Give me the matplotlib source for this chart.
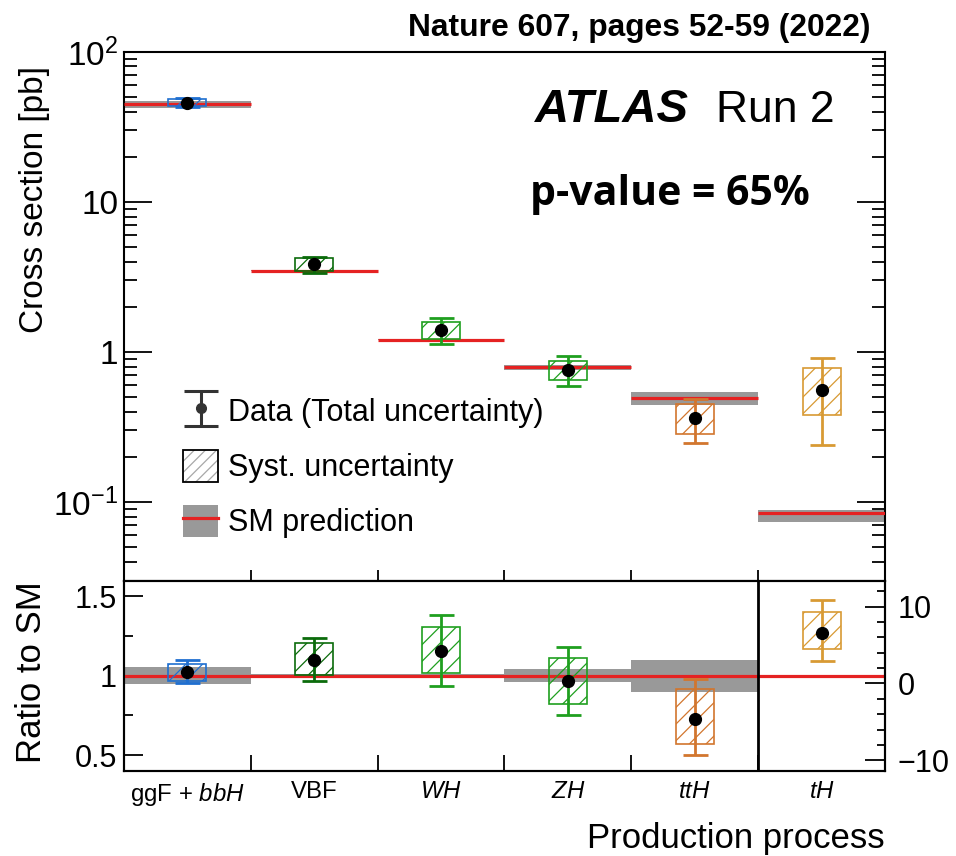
import numpy as np
import matplotlib
matplotlib.use('Agg')
import matplotlib.pyplot as plt
from matplotlib.patches import Patch
from matplotlib.lines import Line2D
from matplotlib.container import ErrorbarContainer
from matplotlib.legend_handler import HandlerErrorbar
from matplotlib.ticker import LogLocator, NullFormatter, FixedLocator, FixedFormatter, MultipleLocator

plt.rcParams['font.family'] = ['Liberation Sans', 'DejaVu Sans']
plt.rcParams['mathtext.fontset'] = 'custom'
plt.rcParams['mathtext.rm'] = 'Liberation Sans'
plt.rcParams['mathtext.it'] = 'Liberation Sans:italic'
plt.rcParams['mathtext.bf'] = 'Liberation Sans:bold'
plt.rcParams['hatch.linewidth'] = 0.9

# ====================== DATA ======================
processes = ['ggF + $bbH$', 'VBF', '$WH$', '$ZH$', '$ttH$', '$tH$']
colors = ['#1f6fd0', '#0b6b0b', '#1f9f1f', '#1f9f1f', '#d2762e', '#d89a34']

# top panel: cross sections [pb]
xs_val = [45.9, 3.85, 1.40, 0.762, 0.361, 0.556]
xs_syst_lo = [43.5, 3.49, 1.23, 0.650, 0.283, 0.378]
xs_syst_hi = [48.4, 4.21, 1.58, 0.878, 0.452, 0.778]
xs_tot_lo = [42.7, 3.38, 1.13, 0.596, 0.247, 0.241]
xs_tot_hi = [49.2, 4.33, 1.68, 0.934, 0.484, 0.916]
sm_val = [44.7, 3.49, 1.21, 0.79, 0.494, 0.085]
sm_lo = [42.4, 3.46, 1.20, 0.76, 0.445, 0.0732]
sm_hi = [47.0, 3.52, 1.22, 0.82, 0.543, 0.0889]

# bottom panel: ratio to SM (ggF .. ttH, left axis)
ratio_val = [1.023, 1.100, 1.157, 0.964, 0.730]
ratio_syst_lo = [0.970, 1.004, 1.015, 0.823, 0.573]
ratio_syst_hi = [1.076, 1.205, 1.309, 1.112, 0.916]
ratio_tot_lo = [0.954, 0.970, 0.937, 0.755, 0.499]
ratio_tot_hi = [1.097, 1.235, 1.385, 1.182, 0.980]
sm_ratio_lo = [0.945, 0.992, 0.992, 0.960, 0.900]
sm_ratio_hi = [1.055, 1.008, 1.008, 1.040, 1.100]

# tH ratio on the right-hand axis
th_ratio_val = [6.6]
th_ratio_syst_lo = [4.43]
th_ratio_syst_hi = [9.3]
th_ratio_tot_lo = [2.9]
th_ratio_tot_hi = [10.86]

RED = '#e52222'
GRAY = '#999999'

edges = np.arange(len(processes) + 1)
centers = edges[:-1] + 0.5


def draw_points(ax, x, val, s_lo, s_hi, t_lo, t_hi, cols):
    s_lo = np.asarray(s_lo)
    s_hi = np.asarray(s_hi)
    ax.bar(x, s_hi - s_lo, bottom=s_lo, width=0.3, fill=False, edgecolor=cols,
           hatch='//', linewidth=1.2, zorder=4)
    for xi, v, lo, hi, c in zip(x, val, t_lo, t_hi, cols):
        ax.errorbar(xi, v, yerr=[[v - lo], [hi - v]], fmt='none', ecolor=c,
                    elinewidth=2.0, capsize=9, capthick=2.0, zorder=5)
    ax.plot(x, val, 'o', color='black', ms=8.5, zorder=6)


fig = plt.figure(figsize=(9.56, 8.56), dpi=100)
ax1 = fig.add_axes([0.1297, 0.3218, 0.7960, 0.6175])
ax2 = fig.add_axes([0.1297, 0.0993, 0.7960, 0.2225])

# ---------------- top panel ----------------
ax1.set_yscale('log')
sm_lo_a = np.asarray(sm_lo)
sm_hi_a = np.asarray(sm_hi)
ax1.bar(centers, sm_hi_a - sm_lo_a, bottom=sm_lo_a, width=1.0, color=GRAY, lw=0, zorder=2)
ax1.hlines(sm_val, edges[:-1], edges[1:], color=RED, lw=2.3, zorder=3)
draw_points(ax1, centers, xs_val, xs_syst_lo, xs_syst_hi, xs_tot_lo, xs_tot_hi, colors)

ax1.set_xlim(0, 6)
ax1.set_ylim(0.030, 100)
ax1.yaxis.set_major_locator(FixedLocator([0.1, 1, 10, 100]))
ax1.yaxis.set_major_formatter(FixedFormatter(['$\\mathregular{10^{-1}}$', '1', '10',
                                              '$\\mathregular{10^{2}}$']))
ax1.yaxis.set_minor_locator(LogLocator(base=10, subs=np.arange(2, 10)))
ax1.yaxis.set_minor_formatter(NullFormatter())
ax1.set_xticks(edges[1:-1])
ax1.tick_params(axis='x', which='major', direction='in', length=8, width=1.3,
                bottom=True, top=False, labelbottom=False)
ax1.tick_params(axis='y', which='both', direction='in', left=True, right=True,
                width=1.3, labelsize=24, pad=4)
ax1.tick_params(axis='y', which='major', length=20)
ax1.tick_params(axis='y', which='minor', length=9.6)
ax1.set_ylabel('Cross section [pb]', fontsize=24)
ax1.yaxis.set_label_coords(-0.097, 0.72)

# legend
h_data = ax1.errorbar([np.nan], [np.nan], yerr=[[1], [1]], fmt='o', color='#333333',
                      ms=7, elinewidth=2.2, capsize=12.5, capthick=2.2)
h_syst = (Patch(facecolor='white', edgecolor='#a8a8a8', hatch='///', lw=0),
          Patch(facecolor='none', edgecolor='black', lw=1.3))
h_sm = (Patch(facecolor=GRAY, lw=0), Line2D([], [], color=RED, lw=2.3))
ax1.legend([h_data, h_syst, h_sm],
           ['Data (Total uncertainty)', 'Syst. uncertainty', 'SM prediction'],
           loc='upper left', bbox_to_anchor=(0.0775, 0.351), frameon=False,
           fontsize=22, handlelength=1.15, handleheight=1.25, handletextpad=0.33,
           labelspacing=0.7, borderpad=0, borderaxespad=0,
           handler_map={ErrorbarContainer: HandlerErrorbar(yerr_size=0.58)})

ax1.text(0.540, 0.868, 'ATLAS', transform=ax1.transAxes, fontsize=34,
         fontweight='bold', fontstyle='italic', va='baseline')
ax1.text(0.778, 0.868, 'Run 2', transform=ax1.transAxes, fontsize=32, va='baseline')
ax1.text(0.5335, 0.7105, 'p-value = 65%', transform=ax1.transAxes, fontsize=29.5,
         fontweight='bold', family=['Open Sans', 'DejaVu Sans'], va='baseline')
fig.text(871 / 956, 1 - 36 / 856, 'Nature 607, pages 52-59 (2022)', fontsize=22.9,
         fontweight='bold', ha='right', va='baseline')

# ---------------- bottom panel ----------------
n5 = len(ratio_val)
lo5 = np.asarray(sm_ratio_lo)
hi5 = np.asarray(sm_ratio_hi)
ax2.bar(centers[:n5], hi5 - lo5, bottom=lo5, width=1.0, color=GRAY, lw=0, zorder=2)
ax2.axhline(1.0, color=RED, lw=2.3, zorder=3)
draw_points(ax2, centers[:n5], ratio_val, ratio_syst_lo, ratio_syst_hi,
            ratio_tot_lo, ratio_tot_hi, colors[:n5])
ax2.axvline(edges[n5], color='black', lw=2.0, zorder=7)

ax2.set_xlim(0, 6)
ax2.set_ylim(0.4, 1.6)
ax2.yaxis.set_major_locator(FixedLocator([0.5, 1.0, 1.5]))
ax2.yaxis.set_major_formatter(FixedFormatter(['0.5', '1', '1.5']))
ax2.yaxis.set_minor_locator(FixedLocator([0.75, 1.25]))
ax2.tick_params(axis='y', which='both', direction='in', left=True, right=False,
                width=1.3, labelsize=22, pad=5)
ax2.tick_params(axis='y', which='major', length=13.7)
ax2.tick_params(axis='y', which='minor', length=6.5)
ax2.set_xticks(edges[1:-1])
ax2.set_xticklabels([])
ax2.set_xticks(centers, minor=True)
ax2.set_xticklabels(processes, minor=True)
ax2.tick_params(axis='x', which='major', direction='in', length=11.5, width=1.3, top=False)
ax2.tick_params(axis='x', which='minor', length=0, pad=7, labelsize=17.3, top=False)
ax2.set_ylabel('Ratio to SM', fontsize=25)
ax2.yaxis.set_label_coords(-0.10, 0.52)
ax2.set_xlabel('Production process', fontsize=25, loc='right')
ax2.xaxis.set_label_coords(1.0, -0.27)

ax2r = ax2.twinx()
draw_points(ax2r, centers[n5:], th_ratio_val, th_ratio_syst_lo, th_ratio_syst_hi,
            th_ratio_tot_lo, th_ratio_tot_hi, colors[n5:])
ax2r.set_ylim(-11.4, 13.4)
ax2r.yaxis.set_major_locator(FixedLocator([-10, 0, 10]))
ax2r.yaxis.set_minor_locator(MultipleLocator(2))
ax2r.tick_params(axis='y', which='both', direction='in', width=1.3, labelsize=22, pad=9)
ax2r.tick_params(axis='y', which='major', length=14.4)
ax2r.tick_params(axis='y', which='minor', length=5.8)

for ax in (ax1, ax2, ax2r):
    for sp in ax.spines.values():
        sp.set_linewidth(1.5)

fig.savefig('out.png', dpi=100)
